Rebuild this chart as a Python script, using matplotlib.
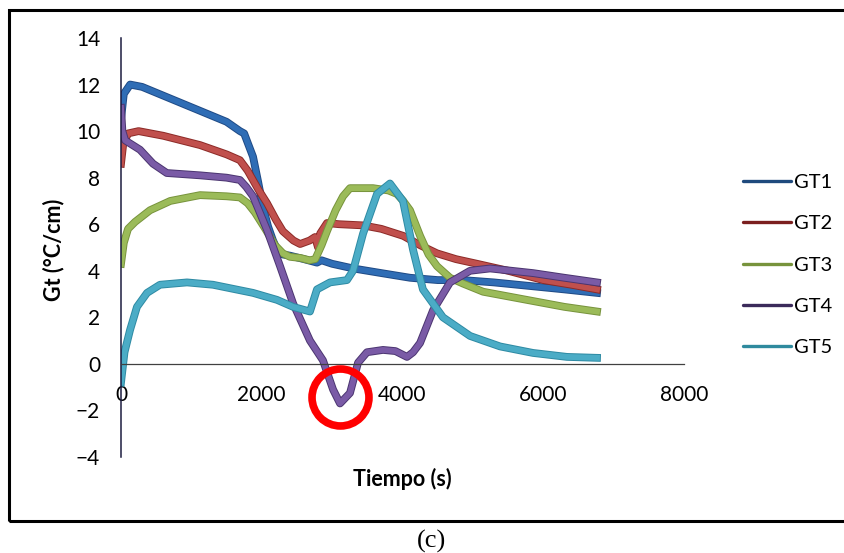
import matplotlib
matplotlib.use('Agg')
import matplotlib.pyplot as plt
import matplotlib.patheffects as pe
import matplotlib.transforms as mtransforms
from matplotlib.lines import Line2D
from matplotlib.patches import Rectangle
import numpy as np

plt.rcParams['font.family'] = ['Lato', 'DejaVu Sans']

# Gradiente termico por termopar
t_gt1 = [0, 40, 130, 300, 700, 1100, 1500, 1690, 1750, 1800, 1876, 1950, 2020,
         2090, 2160, 2220, 2300, 2400, 2600, 2785, 2850, 3000, 3300, 3700,
         4107, 4500, 4860, 5300, 5800, 6300, 6764]
gt1 = [10.5, 11.6, 12.0, 11.9, 11.4, 10.9, 10.4, 10.0, 9.9, 9.5, 8.9, 7.8, 6.7,
       5.9, 5.3, 4.9, 4.7, 4.65, 4.5, 4.35, 4.45, 4.3, 4.1, 3.9, 3.7, 3.6, 3.6,
       3.5, 3.35, 3.2, 3.05]

t_gt2 = [0, 30, 100, 250, 600, 1123, 1500, 1690, 1800, 1950, 2075, 2200, 2300,
         2450, 2545, 2680, 2757, 2800, 2830, 2927, 3100, 3440, 3700, 4010,
         4250, 4490, 4760, 5060, 5500, 6000, 6400, 6764]
gt2 = [8.6, 9.4, 9.9, 10.0, 9.8, 9.4, 9.0, 8.75, 8.3, 7.5, 6.9, 6.2, 5.7, 5.3,
       5.15, 5.3, 5.45, 5.0, 5.6, 6.05, 6.0, 5.95, 5.8, 5.5, 5.1, 4.75, 4.5,
       4.3, 4.0, 3.6, 3.4, 3.2]

t_gt3 = [0, 40, 100, 200, 412, 700, 1123, 1500, 1690, 1800, 1904, 2050, 2188,
         2300, 2400, 2550, 2680, 2760, 2850, 2927, 3050, 3155, 3254, 3580,
         3800, 3920, 4010, 4107, 4250, 4370, 4490, 4675, 4860, 5145, 5500,
         5855, 6300, 6764]
gt3 = [4.3, 5.2, 5.8, 6.1, 6.6, 7.0, 7.25, 7.2, 7.15, 6.9, 6.5, 5.8, 5.1, 4.75,
       4.6, 4.55, 4.45, 4.5, 5.1, 5.7, 6.6, 7.2, 7.55, 7.55, 7.45, 7.3, 7.0,
       6.6, 5.5, 4.7, 4.2, 3.7, 3.45, 3.1, 2.9, 2.7, 2.45, 2.25]

t_gt4 = [0, 20, 60, 270, 455, 650, 1123, 1500, 1690, 1780, 1876, 2075, 2260,
         2445, 2685, 2870, 3013, 3112, 3254, 3368, 3495, 3723, 3900, 4064,
         4150, 4250, 4434, 4675, 4960, 5245, 5855, 6300, 6764]
gt4 = [11.0, 10.0, 9.6, 9.2, 8.6, 8.2, 8.1, 8.0, 7.9, 7.6, 7.2, 5.75, 4.2, 2.6,
       1.0, 0.15, -1.1, -1.7, -1.25, 0.05, 0.5, 0.6, 0.55, 0.3, 0.5, 0.9, 2.3,
       3.5, 4.0, 4.1, 3.9, 3.7, 3.5]

t_gt5 = [0, 50, 128, 227, 370, 554, 938, 1307, 1876, 2217, 2445, 2685, 2785,
         2970, 3211, 3297, 3440, 3638, 3822, 4007, 4150, 4290, 4575, 4960,
         5386, 5855, 6338, 6764]
gt5 = [-0.8, 0.5, 1.45, 2.45, 3.05, 3.4, 3.5, 3.4, 3.05, 2.75, 2.45, 2.25, 3.2,
       3.5, 3.6, 4.0, 5.6, 7.3, 7.75, 7.0, 4.9, 3.2, 2.0, 1.2, 0.75, 0.47,
       0.3, 0.26]

series = [('GT1', t_gt1, gt1), ('GT2', t_gt2, gt2), ('GT3', t_gt3, gt3),
          ('GT4', t_gt4, gt4), ('GT5', t_gt5, gt5)]
colors = ['#2f6db5', '#c0504d', '#9bbb59', '#7a5ba6', '#4bacc6']
edges = ['#1f4a85', '#8c2a27', '#77933c', '#4b3570', '#2e8aa3']
legend_colors = ['#1f4a7d', '#7b1f1f', '#77933c', '#3b2a5a', '#2f8a9e']

x_ticks = [0, 2000, 4000, 6000, 8000]
y_ticks = [-4, -2, 0, 2, 4, 6, 8, 10, 12, 14]

fig = plt.figure(figsize=(8.45, 5.53), dpi=100)
ax = fig.add_axes([121 / 845, 1 - 457 / 553, 563 / 845, 419 / 553])

for (name, t, g), c, e in zip(series, colors, edges):
    ax.plot(t, g, color=c, lw=4.2, solid_joinstyle='round',
            path_effects=[pe.Stroke(linewidth=5.6, foreground=e), pe.Normal()])

# Circulo rojo en el minimo de GT4
i_min = int(np.argmin(gt4))
tr = mtransforms.offset_copy(ax.transData, fig=fig, y=5, units='points')
ax.plot(t_gt4[i_min], gt4[i_min], 'o', ms=41, mfc='none', mec='#ff0000',
        mew=5.5, transform=tr, zorder=10, clip_on=False)

ax.set_xlim(0, 8000)
ax.set_ylim(-4, 14)
ax.set_xticks(x_ticks)
ax.set_yticks(y_ticks)
ax.spines['top'].set_visible(False)
ax.spines['right'].set_visible(False)
ax.spines['bottom'].set_position(('data', 0))
ax.spines['bottom'].set_color('#404040')
ax.spines['bottom'].set_linewidth(0.9)
ax.spines['left'].set_color('#1c1c40')
ax.spines['left'].set_linewidth(1.1)
ax.tick_params(axis='both', length=0, labelsize=15, colors='#000000')
ax.tick_params(axis='x', pad=15)
ax.tick_params(axis='y', pad=15)

ax.set_xlabel('Tiempo (s)', fontsize=15.5, fontweight='bold')
ax.xaxis.set_label_coords(0.5, -0.025)
ax.set_ylabel('Gt (°C/cm)', fontsize=15.5, fontweight='bold')
ax.yaxis.set_label_coords(-0.1, 0.495)

handles = [Line2D([0], [0], color=c, lw=2.4, solid_capstyle='round')
           for c in legend_colors]
fig.legend(handles, [s[0] for s in series], loc='upper left',
           bbox_to_anchor=(743 / 845, 1 - 174 / 553), frameon=False,
           fontsize=14.5, handlelength=2.4, handletextpad=0.15,
           labelspacing=1.2, borderpad=0, borderaxespad=0)

# Marco exterior y etiqueta (c)
fig.patches.append(Rectangle((9 / 845, 1 - 521 / 553), 1.0, 511 / 553,
                             transform=fig.transFigure, fill=False,
                             edgecolor='black', lw=2.2, clip_on=False))
fig.text(432 / 845, 1 - 541 / 553, '(c)', family='Liberation Serif',
         fontsize=19, ha='center', va='center')

fig.savefig('out.png', dpi=100)
